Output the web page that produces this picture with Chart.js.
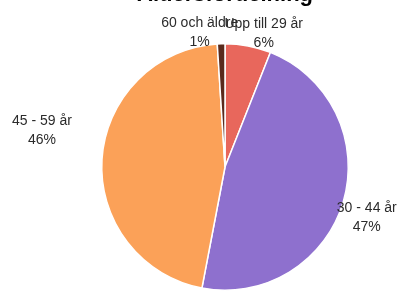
<!DOCTYPE html>
<html lang="sv">
<head>
  <meta charset="utf-8">
  <title>Åldersfördelning</title>
  <script src="https://cdn.jsdelivr.net/npm/chart.js@4"></script>
  <style>
    html, body { margin: 0; padding: 0; background: #fff; }
    #holder { width: 398px; height: 293px; }
  </style>
</head>
<body>
  <div id="holder"><canvas id="chart"></canvas></div>
  <script>
    var labels = ['Upp till 29 år', '30 - 44 år', '45 - 59 år', '60 och äldre'];
    var shares = [6, 47, 46, 1];
    var colors = ['#E8675C', '#8E70CE', '#FBA158', '#5A2A1C'];

    // Excel-style "best fit" labels: nudge from a point just outside each slice
    var labelNudge = [[13, 1], [10, 12], [-46, -28], [-21, 3]];

    var outsideLabels = {
      id: 'outsideLabels',
      afterDatasetsDraw: function (chart) {
        var ctx = chart.ctx;
        var meta = chart.getDatasetMeta(0);
        ctx.save();
        ctx.font = '14px "Liberation Sans", Arial, sans-serif';
        ctx.fillStyle = '#2b2b2b';
        ctx.textAlign = 'center';
        ctx.textBaseline = 'middle';
        meta.data.forEach(function (arc, i) {
          var p = arc.getProps(['x', 'y', 'startAngle', 'endAngle', 'outerRadius'], true);
          var mid = (p.startAngle + p.endAngle) / 2;
          var r = p.outerRadius + 14;
          var x = p.x + Math.cos(mid) * r + labelNudge[i][0];
          var y = p.y + Math.sin(mid) * r + labelNudge[i][1];
          ctx.fillText(labels[i], x, y - 9.5);
          ctx.fillText(shares[i] + '%', x, y + 9.5);
        });
        ctx.restore();
      }
    };

    var config = {
      type: 'pie',
      data: {
        labels: labels,
        datasets: [{
          data: shares,
          backgroundColor: colors,
          borderColor: '#ffffff',
          borderWidth: 1.5
        }]
      },
      options: {
        responsive: true,
        maintainAspectRatio: false,
        animation: false,
        layout: {
          padding: { left: 101, right: 49, top: 0, bottom: 2 }
        },
        plugins: {
          legend: { display: false },
          tooltip: { enabled: false },
          title: {
            display: true,
            text: 'Åldersfördelning',
            color: '#000000',
            font: { family: '"Liberation Sans", Arial, sans-serif', size: 22, weight: 'bold', lineHeight: 1.2 },
            padding: { top: -18, bottom: 34.6 }
          }
        }
      },
      plugins: [outsideLabels]
    };

    var ctx = document.getElementById('chart').getContext('2d');
    window.myPie = new Chart(ctx, config);
  </script>
</body>
</html>
